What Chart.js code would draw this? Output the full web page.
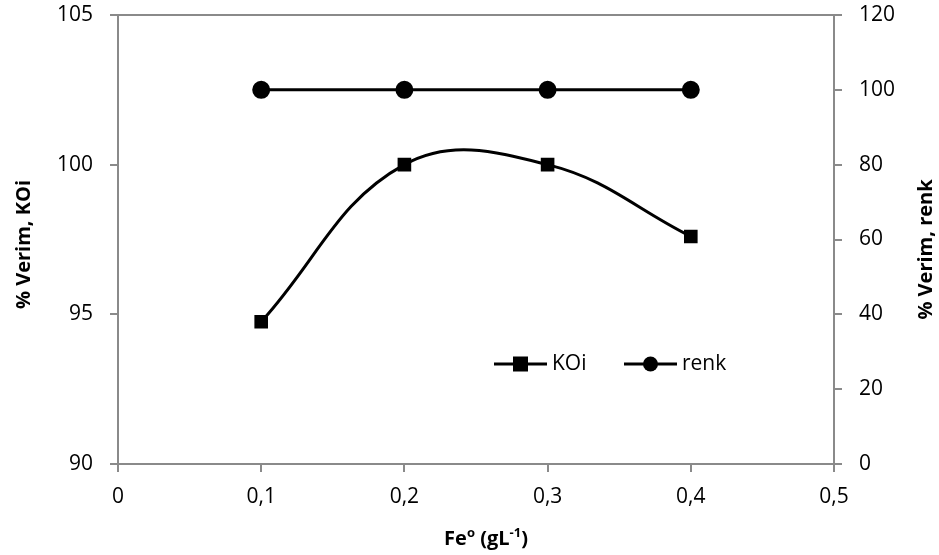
<!DOCTYPE html>
<html>
<head>
<meta charset="utf-8">
<script src="https://cdn.jsdelivr.net/npm/chart.js@4/dist/chart.umd.min.js"></script>
<style>
  html, body { margin: 0; padding: 0; background: #ffffff; }
  canvas { display: block; }
</style>
</head>
<body>
<canvas id="c" width="939" height="555"></canvas>
<script>
// ---- data ----
const feDose = [0.1, 0.2, 0.3, 0.4];
const koiValues = [94.75, 100, 100, 97.6];
const renkValues = [100, 100, 100, 100];
const seriesNames = ['KOi', 'renk'];
const xTickLabels = ['0', '0,1', '0,2', '0,3', '0,4', '0,5'];
const leftTitle = '% Verim, KOi';
const rightTitle = '% Verim, renk';

const FONT = '"Open Sans", "Noto Sans", sans-serif';
const AXIS_COLOR = '#8a8a8a';

function pts(xs, ys) { return xs.map((x, i) => ({ x: x, y: ys[i] })); }

const decorPlugin = {
  id: 'decor',
  afterDraw(chart) {
    const ctx = chart.ctx;
    const a = chart.chartArea;
    ctx.save();
    // top border of plot area
    ctx.strokeStyle = AXIS_COLOR;
    ctx.lineWidth = 2;
    ctx.beginPath();
    ctx.moveTo(a.left, a.top);
    ctx.lineTo(a.right, a.top);
    ctx.stroke();

    // y axis titles
    ctx.fillStyle = '#000';
    ctx.font = 'bold 20px ' + FONT;
    ctx.textAlign = 'center';
    ctx.textBaseline = 'middle';
    ctx.save();
    ctx.translate(24, (a.top + a.bottom) / 2 + 5);
    ctx.rotate(-Math.PI / 2);
    ctx.fillText(leftTitle, 0, 0);
    ctx.restore();
    ctx.save();
    ctx.translate(926, (a.top + a.bottom) / 2 + 10);
    ctx.rotate(-Math.PI / 2);
    ctx.fillText(rightTitle, 0, 0);
    ctx.restore();

    // x axis title with superscripts: Fe^o (gL^-1)
    const parts = [
      { t: 'Fe', sup: false },
      { t: 'o', sup: true },
      { t: ' (gL', sup: false },
      { t: '-1', sup: true },
      { t: ')', sup: false }
    ];
    const big = 'bold 20px ' + FONT, small = 'bold 13px ' + FONT;
    let total = 0;
    parts.forEach(p => { ctx.font = p.sup ? small : big; p.w = ctx.measureText(p.t).width; total += p.w; });
    let x = (a.left + a.right) / 2 + 10 - total / 2;
    const yBase = 545;
    ctx.textAlign = 'left';
    ctx.textBaseline = 'alphabetic';
    parts.forEach(p => {
      ctx.font = p.sup ? small : big;
      ctx.fillText(p.t, x, p.sup ? yBase - 8 : yBase);
      x += p.w;
    });

    // legend inside the plot
    const ly = 364;
    const items = [
      { x0: 494, style: 'rect', label: seriesNames[0] },
      { x0: 624, style: 'circle', label: seriesNames[1] }
    ];
    items.forEach(it => {
      ctx.strokeStyle = '#000';
      ctx.lineWidth = 3;
      ctx.beginPath();
      ctx.moveTo(it.x0, ly);
      ctx.lineTo(it.x0 + 53, ly);
      ctx.stroke();
      ctx.fillStyle = '#000';
      const cx = it.x0 + 26.5;
      if (it.style === 'rect') {
        ctx.fillRect(cx - 7.5, ly - 7.5, 15, 15);
      } else {
        ctx.beginPath();
        ctx.arc(cx, ly, 7.5, 0, Math.PI * 2);
        ctx.fill();
      }
      ctx.font = '21px ' + FONT;
      ctx.textBaseline = 'middle';
      ctx.textAlign = 'left';
      ctx.fillText(it.label, it.x0 + 58, ly);
    });
    ctx.restore();
  }
};

const tickFont = { family: FONT, size: 21 };

function fitY(width) {
  return s => { s.width = width; s.paddingTop = 15; s.paddingBottom = 0; };
}

new Chart(document.getElementById('c'), {
  type: 'line',
  data: {
    datasets: [
      {
        label: seriesNames[0],
        data: pts(feDose, koiValues),
        yAxisID: 'y',
        borderColor: '#000',
        backgroundColor: '#000',
        borderWidth: 3,
        pointStyle: 'rect',
        pointRadius: 7.5,
        pointHoverRadius: 7.5,
        tension: 0.4,
        fill: false
      },
      {
        label: seriesNames[1],
        data: pts(feDose, renkValues),
        yAxisID: 'y1',
        borderColor: '#000',
        backgroundColor: '#000',
        borderWidth: 3,
        pointStyle: 'circle',
        pointRadius: 7.5,
        pointHoverRadius: 7.5,
        tension: 0,
        fill: false
      }
    ]
  },
  options: {
    responsive: false,
    devicePixelRatio: 1,
    animation: false,
    layout: { padding: { top: 15, left: 0, right: 0, bottom: 0 } },
    plugins: {
      legend: { display: false },
      tooltip: { enabled: false }
    },
    scales: {
      x: {
        type: 'linear',
        min: 0,
        max: 0.5,
        ticks: {
          stepSize: 0.1,
          color: '#000',
          font: tickFont,
          padding: 12,
          maxRotation: 0,
          callback: (v, i) => xTickLabels[i]
        },
        grid: { drawOnChartArea: false, drawTicks: true, tickLength: 8, color: AXIS_COLOR, lineWidth: 2 },
        border: { color: AXIS_COLOR, width: 2 },
        afterFit: s => { s.height = 91; }
      },
      y: {
        position: 'left',
        min: 90,
        max: 105,
        ticks: { stepSize: 5, color: '#000', font: tickFont, padding: 17 },
        grid: { drawOnChartArea: false, drawTicks: true, tickLength: 8, color: AXIS_COLOR, lineWidth: 2 },
        border: { color: AXIS_COLOR, width: 2 },
        afterFit: fitY(118)
      },
      y1: {
        position: 'right',
        min: 0,
        max: 120,
        ticks: { stepSize: 20, color: '#000', font: tickFont, padding: 17 },
        grid: { drawOnChartArea: false, drawTicks: true, tickLength: 8, color: AXIS_COLOR, lineWidth: 2 },
        border: { color: AXIS_COLOR, width: 2 },
        afterFit: fitY(105)
      }
    }
  },
  plugins: [decorPlugin]
});
</script>
</body>
</html>
